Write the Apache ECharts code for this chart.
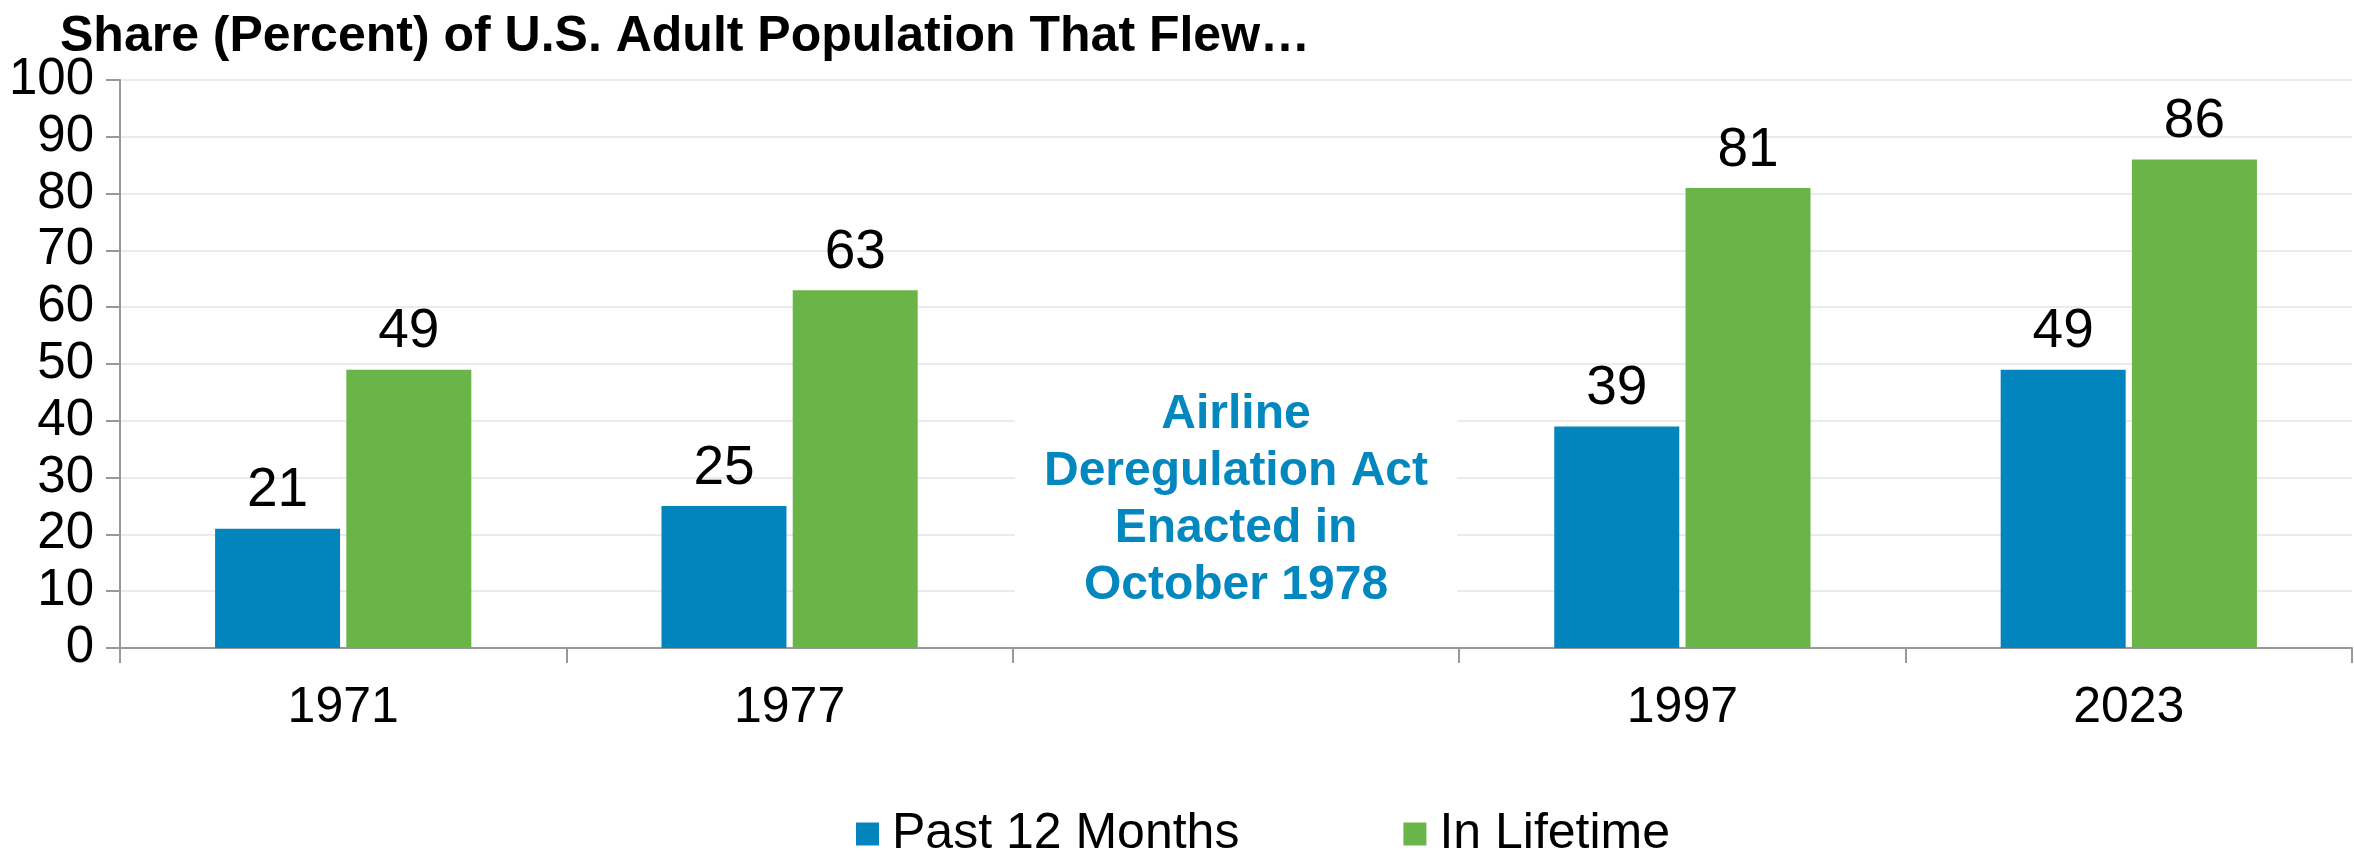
<!DOCTYPE html>
<html>
<head>
<meta charset="utf-8">
<title>Share of U.S. Adults That Flew</title>
<script src="https://cdn.jsdelivr.net/npm/echarts@6/dist/echarts.min.js"></script>
<style>
  html, body { margin: 0; padding: 0; background: #fff; }
  #chart { width: 2354px; height: 851px; }
</style>
</head>
<body>
<div id="chart"></div>
<script>
// data
const years = ['1971', '1977', '', '1997', '2023'];
const past12Months = [21, 25, null, 39, 49];
const inLifetime = [49, 63, null, 81, 86];
const yTicks = [0, 10, 20, 30, 40, 50, 60, 70, 80, 90, 100];

const noteText = 'Airline\nDeregulation Act\nEnacted in\nOctober 1978';
const noteSpot = [2, 26]; // category index, value

const FONT = '"Liberation Sans", Arial, sans-serif';
const BLUE = '#0284bc';
const GREEN = '#6ab547';

const chart = echarts.init(document.getElementById('chart'), null, {
  width: 2354,
  height: 851,
  devicePixelRatio: 1,
});

const barLabel = {
  show: true,
  position: 'top',
  distance: 10,
  color: '#000',
  fontFamily: FONT,
  fontSize: 55,
};

chart.setOption({
  animation: false,
  backgroundColor: '#fff',
  title: {
    text: 'Share (Percent) of U.S. Adult Population That Flew…',
    left: 60,
    top: 12,
    padding: 0,
    textStyle: { fontFamily: FONT, fontSize: 50, fontWeight: 'bold', color: '#000' },
  },
  legend: {
    left: 851,
    top: 804,
    itemWidth: 23,
    itemHeight: 23,
    itemGap: 164,
    icon: 'rect',
    textStyle: { fontFamily: FONT, fontSize: 50, color: '#000', padding: [0, 0, 0, 8] },
    data: ['Past 12 Months', 'In Lifetime'],
  },
  grid: {
    left: 120,
    right: 2,
    top: 80,
    bottom: 203,
    containLabel: false,
    outerBoundsMode: 'none',
  },
  xAxis: {
    type: 'category',
    data: years,
    boundaryGap: true,
    axisLine: { lineStyle: { color: '#999', width: 2 } },
    axisTick: { show: true, length: 15, alignWithLabel: false, lineStyle: { color: '#999', width: 2 } },
    axisLabel: { fontFamily: FONT, fontSize: 50, color: '#000', margin: 35, interval: 0 },
    splitLine: { show: false },
  },
  yAxis: {
    type: 'value',
    min: yTicks[0],
    max: yTicks[yTicks.length - 1],
    interval: 10,
    axisLine: { show: true, lineStyle: { color: '#999', width: 2 } },
    axisTick: { show: true, length: 14, lineStyle: { color: '#999', width: 2 } },
    axisLabel: { fontFamily: FONT, fontSize: 51, color: '#000', margin: 26 },
    splitLine: { show: true, lineStyle: { color: '#ebebeb', width: 2 } },
  },
  series: [
    {
      name: 'Past 12 Months',
      type: 'bar',
      data: past12Months,
      barWidth: 125,
      barGap: '5%',
      itemStyle: { color: BLUE },
      label: barLabel,
    },
    {
      name: 'In Lifetime',
      type: 'bar',
      data: inLifetime,
      barWidth: 125,
      itemStyle: { color: GREEN },
      label: barLabel,
    },
    {
      // carrier for the text note, sits at the category centre
      name: 'note',
      type: 'line',
      data: [],
      silent: true,
      markPoint: {
        symbol: 'rect',
        symbolSize: 0,
        silent: true,
        data: [{ coord: noteSpot }],
        label: {
          show: true,
          position: 'inside',
          formatter: noteText,
          fontFamily: FONT,
          fontSize: 48,
          fontWeight: 'bold',
          color: '#0287bf',
          lineHeight: 57,
          align: 'center',
          width: 442,
          backgroundColor: '#fff',
          padding: [4, 0, 4, 0],
        },
      },
    },
  ],
});
</script>
</body>
</html>
